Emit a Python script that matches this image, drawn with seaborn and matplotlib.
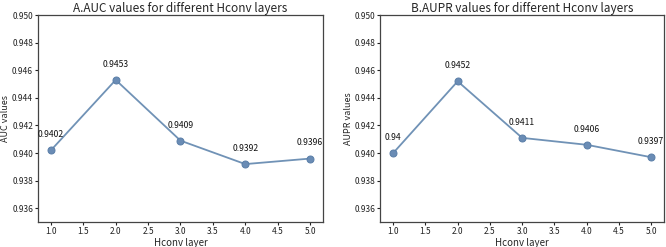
import pandas as pd
import matplotlib
matplotlib.use('Agg')
import matplotlib.pyplot as plt
import seaborn as sns

layers = [1.0, 2.0, 3.0, 4.0, 5.0]
auc = [0.9402, 0.9453, 0.9409, 0.9392, 0.9396]
aupr = [0.9400, 0.9452, 0.9411, 0.9406, 0.9397]
auc_labels = ['0.9402', '0.9453', '0.9409', '0.9392', '0.9396']
aupr_labels = ['0.94', '0.9452', '0.9411', '0.9406', '0.9397']
yticks = [0.936, 0.938, 0.940, 0.942, 0.944, 0.946, 0.948, 0.950]

sns.set_style('ticks')
plt.rcParams['font.family'] = ['Noto Sans CJK SC', 'DejaVu Sans']

fig = plt.figure(figsize=(6.66, 2.47), dpi=100)
ax1 = fig.add_axes([0.057, 0.101, 0.428, 0.838])
ax2 = fig.add_axes([0.571, 0.101, 0.426, 0.838])

panels = [
    (ax1, auc, auc_labels, 'A.AUC values for different Hconv layers', 'AUC values'),
    (ax2, aupr, aupr_labels, 'B.AUPR values for different Hconv layers', 'AUPR values'),
]

for ax, vals, labels, title, ylabel in panels:
    df = pd.DataFrame({'layer': layers, 'value': vals})
    sns.lineplot(data=df, x='layer', y='value', ax=ax, color='#7092b6',
                 linewidth=1.3, marker='o', markersize=5,
                 markerfacecolor='#6a8cb5', markeredgecolor='#5b7fa8')
    for x, y, t in zip(layers, vals, labels):
        ax.annotate(t, (x, y), xytext=(0, 8), textcoords='offset points',
                    ha='center', va='bottom', fontsize=6.2, color='#111111')
    ax.set_ylim(0.935, 0.950)
    ax.set_yticks(yticks)
    ax.set_yticklabels([f'{v:.3f}' for v in yticks])
    ax.set_xticks([1.0, 1.5, 2.0, 2.5, 3.0, 3.5, 4.0, 4.5, 5.0])
    ax.tick_params(labelsize=6, length=2, width=0.8, colors='#222222', pad=1.5)
    ax.set_title(title, fontsize=8.5, pad=2)
    ax.set_xlabel('Hconv layer', fontsize=7)
    ax.set_ylabel(ylabel, fontsize=6.5)
    ax.xaxis.set_label_coords(0.5, -0.075)
    ax.yaxis.set_label_coords(-0.097, 0.5)
    for s in ax.spines.values():
        s.set_color('#444444')
        s.set_linewidth(0.9)

fig.savefig('out.png', dpi=100)
